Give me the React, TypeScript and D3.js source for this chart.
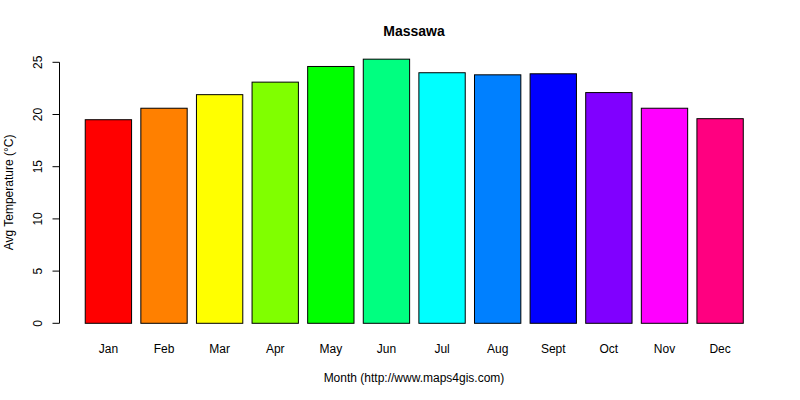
import { scaleBand, scaleLinear } from "d3";

const months = ["Jan", "Feb", "Mar", "Apr", "May", "Jun", "Jul", "Aug", "Sept", "Oct", "Nov", "Dec"];
const avgTemps = [19.5, 20.6, 21.9, 23.1, 24.6, 25.3, 24.0, 23.8, 23.9, 22.1, 20.6, 19.6];
const barColors = [
  "#FF0000", "#FF8000", "#FFFF00", "#80FF00", "#00FF00", "#00FF80",
  "#00FFFF", "#0080FF", "#0000FF", "#8000FF", "#FF00FF", "#FF0080",
];
const yTicks = [0, 5, 10, 15, 20, 25];

const title = "Massawa";
const xTitle = "Month (http://www.maps4gis.com)";
const yTitle = "Avg Temperature (°C)";

const font = "'Liberation Sans', Arial, sans-serif";

export default function App() {
  const width = 800;
  const height = 400;

  // bars sit at R's barplot positions: width 1, space 0.2
  const scaleX = scaleBand<string>()
    .domain(months)
    .range([80.6, 747.9])
    .paddingInner(1 / 6)
    .paddingOuter(1 / 12);
  const scaleY = scaleLinear().domain([0, 25]).range([323.3, 62.3]);

  const axisX = 59.5;

  return (
    <svg
      width={width}
      height={height}
      style={{ position: "absolute", left: 0, top: 0, background: "#fff" }}
      fontFamily={font}
    >
      <rect width={width} height={height} fill="#fff" />

      {/* bars */}
      {months.map((m, i) => (
        <rect
          key={`bar-${m}`}
          x={scaleX(m)}
          y={scaleY(avgTemps[i])}
          width={scaleX.bandwidth()}
          height={scaleY(0) - scaleY(avgTemps[i])}
          fill={barColors[i]}
          stroke="#000"
          strokeWidth={1}
        />
      ))}

      {/* y axis */}
      <g>
        <line
          x1={axisX}
          x2={axisX}
          y1={scaleY(yTicks[0])}
          y2={scaleY(yTicks[yTicks.length - 1])}
          stroke="#000"
        />
        {yTicks.map((t) => (
          <g key={`yt-${t}`}>
            <line x1={axisX - 7} x2={axisX} y1={scaleY(t)} y2={scaleY(t)} stroke="#000" />
            <text
              transform={`translate(42, ${scaleY(t)}) rotate(-90)`}
              textAnchor="middle"
              fontSize={12}
              fill="#000"
            >
              {t}
            </text>
          </g>
        ))}
      </g>

      {/* month labels */}
      {months.map((m) => (
        <text
          key={`xl-${m}`}
          x={(scaleX(m) ?? 0) + scaleX.bandwidth() / 2}
          y={353}
          textAnchor="middle"
          fontSize={12}
          fill="#000"
        >
          {m}
        </text>
      ))}

      {/* titles */}
      <text x={414} y={35.5} textAnchor="middle" fontSize={14} fontWeight="bold" fill="#000">
        {title}
      </text>
      <text x={414} y={381.5} textAnchor="middle" fontSize={12} fill="#000">
        {xTitle}
      </text>
      <text
        transform={`translate(13, 192.5) rotate(-90)`}
        textAnchor="middle"
        fontSize={12}
        fill="#000"
      >
        {yTitle}
      </text>
    </svg>
  );
}
